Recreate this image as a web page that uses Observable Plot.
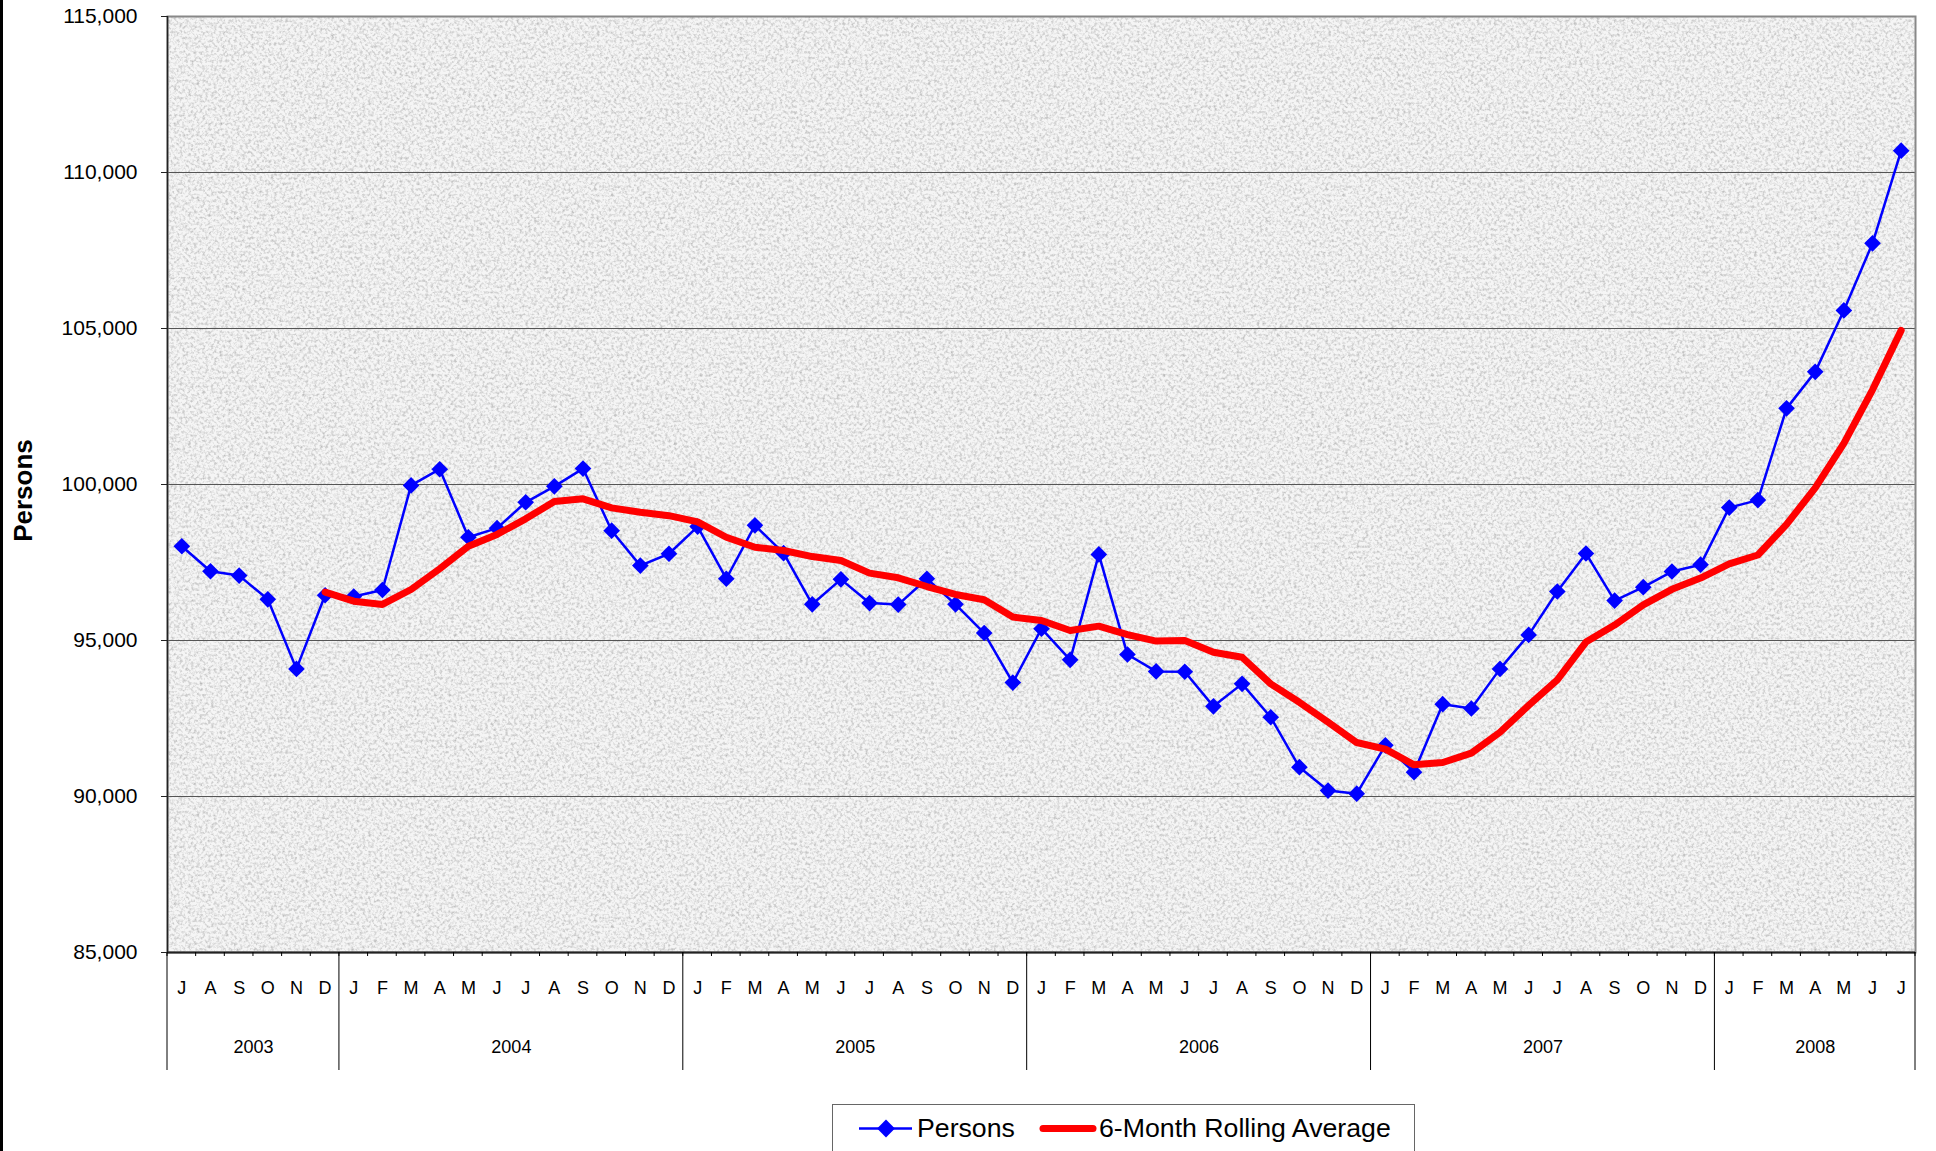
<!DOCTYPE html>
<html>
<head>
<meta charset="utf-8">
<script src="https://cdn.jsdelivr.net/npm/d3@7"></script>
<script src="https://cdn.jsdelivr.net/npm/@observablehq/plot@0.6"></script>
<style>
  body { margin: 0; background: #fff; font-family: "Liberation Sans", Arial, sans-serif; overflow: hidden; }
  #wrap { position: relative; width: 1936px; height: 1151px; overflow: hidden; }
  #border { position: absolute; left: 0; top: 0; width: 3px; height: 1151px; background: #000; }
  #legend { position: absolute; left: 832px; top: 1104px; }
</style>
</head>
<body>
<div id="wrap">
  <div id="chart"></div>
  <div id="border"></div>
  <div id="legend"></div>
</div>
<script>
// ---- Data ----
const monthLetters = [
  "J","A","S","O","N","D",
  "J","F","M","A","M","J","J","A","S","O","N","D",
  "J","F","M","A","M","J","J","A","S","O","N","D",
  "J","F","M","A","M","J","J","A","S","O","N","D",
  "J","F","M","A","M","J","J","A","S","O","N","D",
  "J","F","M","A","M","J","J"
];
const years = ["2003", "2004", "2005", "2006", "2007", "2008"];
const monthsInYear = [6, 12, 12, 12, 12, 7];
const yTicks = [85000, 90000, 95000, 100000, 105000, 110000, 115000];

const persons = [
  98020, 97220, 97080, 96320, 94090, 96450,
  96410, 96620, 99970, 100490, 98310, 98600, 99430, 99940, 100510, 98520, 97400, 97780,
  98650, 96980, 98690, 97800, 96160, 96960, 96200, 96150, 96980, 96160, 95240, 93650,
  95380, 94380, 97760, 94550, 94010, 94000, 92890, 93610, 92540, 90940, 90190, 90090,
  91640, 90780, 92960, 92820, 94090, 95180, 96570, 97790, 96280, 96710, 97210, 97430,
  99260, 99500, 102440, 103610, 105580, 107730, 110700
];

const rollingAverage = [
  null, null, null, null, null, 96550,
  96260, 96155, 96635, 97300, 98020, 98400, 98900, 99455, 99540, 99250, 99110, 99000,
  98800, 98310, 97990, 97885, 97690, 97565, 97160, 97010, 96730, 96475, 96305, 95750,
  95640, 95320, 95460, 95190, 94980, 95000, 94625, 94465, 93610, 93020, 92380, 91730,
  91520, 91015, 91090, 91390, 92060, 92920, 93735, 94950, 95495, 96140, 96640, 97000,
  97455, 97740, 98720, 99890, 101320, 103035, 104940
];

// ---- Derived tables ----
const personsData = persons.map((v, i) => ({i, v, m: monthLetters[i]}));
const avgData = rollingAverage.map((v, i) => ({i, v})).filter(d => d.v != null);
let acc = 0;
const yearData = years.map((year, k) => {
  const s = acc; acc += monthsInYear[k];
  return {year, start: s, end: acc, center: s + (monthsInYear[k] - 1) / 2};
});
const yearBounds = [-0.5, ...yearData.map(d => d.end - 0.5)];
const monthBounds = d3.range(persons.length + 1).map(k => k - 0.5);

// granite-like background texture for the plotting area
function granite(index, scales, values, dims) {
  const {width, height, marginLeft, marginRight, marginTop, marginBottom} = dims;
  const x = marginLeft, y = marginTop, w = width - marginLeft - marginRight, h = height - marginTop - marginBottom;
  const g = d3.create("svg:g");
  const f = g.append("filter").attr("id", "granite")
    .attr("filterUnits", "userSpaceOnUse").attr("x", x).attr("y", y).attr("width", w).attr("height", h)
    .attr("color-interpolation-filters", "sRGB");
  f.append("feTurbulence").attr("type", "fractalNoise").attr("baseFrequency", "0.35")
    .attr("numOctaves", 3).attr("seed", 7).attr("result", "n");
  f.append("feColorMatrix").attr("in", "n").attr("type", "matrix")
    .attr("values", "0 0 0 0 0.62  0 0 0 0 0.62  0 0 0 0 0.62  1.4 0 0 0 -0.6");
  g.append("rect").attr("x", x).attr("y", y).attr("width", w).attr("height", h).attr("fill", "#f5f5f5");
  g.append("rect").attr("x", x).attr("y", y).attr("width", w).attr("height", h)
    .attr("fill", "#000").attr("filter", "url(#granite)");
  return g.node();
}

// year separators and month ticks below the x axis
function xAxisRules(index, scales, values, dims) {
  const y0 = dims.height - dims.marginBottom;
  const g = d3.create("svg:g").attr("stroke", "#000").attr("fill", "none");
  for (const b of monthBounds) {
    const px = scales.x(b);
    g.append("line").attr("x1", px).attr("x2", px).attr("y1", y0).attr("y2", y0 + 4).attr("stroke-width", 1);
  }
  for (const b of yearBounds) {
    const px = scales.x(b);
    g.append("line").attr("x1", px).attr("x2", px).attr("y1", y0).attr("y2", y0 + 118).attr("stroke-width", 1);
  }
  return g.node();
}

const chart = Plot.plot({
  width: 1936,
  height: 1100,
  marginLeft: 167,
  marginRight: 21,
  marginTop: 16,
  marginBottom: 148,
  style: {fontFamily: "'Liberation Sans', Arial, sans-serif", fontSize: "18px", background: "white", color: "#000", overflow: "visible"},
  x: {type: "linear", domain: [-0.5, persons.length - 0.5], axis: null},
  y: {domain: [85000, 115000], axis: null},
  marks: [
    granite,
    Plot.ruleY(yTicks, {stroke: "#555", strokeWidth: 1}),
    Plot.frame({stroke: "#888", strokeWidth: 2}),
    Plot.ruleX([-0.5], {stroke: "#222", strokeWidth: 1.5}),
    Plot.ruleY([85000], {stroke: "#222", strokeWidth: 2}),
    Plot.line(personsData, {x: "i", y: "v", stroke: "#0000ff", strokeWidth: 2.5}),
    Plot.dot(personsData, {x: "i", y: "v", symbol: "diamond2", r: 7.5, fill: "#0000ff", stroke: "none"}),
    Plot.line(avgData, {x: "i", y: "v", stroke: "#ff0000", strokeWidth: 7, strokeLinejoin: "round", strokeLinecap: "round"}),
    xAxisRules,
    Plot.text(personsData, {x: "i", text: "m", frameAnchor: "bottom", dy: 36, lineAnchor: "middle", fontSize: 18, fill: "#000"}),
    Plot.text(yearData, {x: "center", text: "year", frameAnchor: "bottom", dy: 95, lineAnchor: "middle", fontSize: 18, fill: "#000"}),
    Plot.axisY(yTicks, {anchor: "left", tickSize: 6, tickPadding: 24, fontSize: 21, tickFormat: d3.format(","), label: null, stroke: "#222"}),
    Plot.text(["Persons"], {text: d => d, frameAnchor: "left", dx: -144, dy: 6, rotate: -90, textAnchor: "middle", lineAnchor: "middle", fontSize: 26, fontWeight: "bold", fill: "#000"})
  ]
});
document.getElementById("chart").appendChild(chart);

// ---- Legend (below the chart) ----
const lg = d3.select("#legend").append("svg").attr("width", 584).attr("height", 60)
  .style("font-family", "'Liberation Sans', Arial, sans-serif");
lg.append("rect").attr("x", 0.5).attr("y", 0.5).attr("width", 582).attr("height", 90)
  .attr("fill", "#fff").attr("stroke", "#666").attr("stroke-width", 1);
lg.append("line").attr("x1", 27).attr("x2", 80).attr("y1", 24.5).attr("y2", 24.5)
  .attr("stroke", "#0000ff").attr("stroke-width", 2.5);
lg.append("path").attr("d", d3.symbol(d3.symbolDiamond2, Math.PI * 8 * 8)()).attr("transform", "translate(54,24.5)")
  .attr("fill", "#0000ff");
lg.append("text").attr("x", 85).attr("y", 33).attr("font-size", 26.7).attr("fill", "#000").text("Persons");
lg.append("line").attr("x1", 211).attr("x2", 261).attr("y1", 24.5).attr("y2", 24.5)
  .attr("stroke", "#ff0000").attr("stroke-width", 7).attr("stroke-linecap", "round");
lg.append("text").attr("x", 267).attr("y", 33).attr("font-size", 26.7).attr("fill", "#000").text("6-Month Rolling Average");
</script>
</body>
</html>
